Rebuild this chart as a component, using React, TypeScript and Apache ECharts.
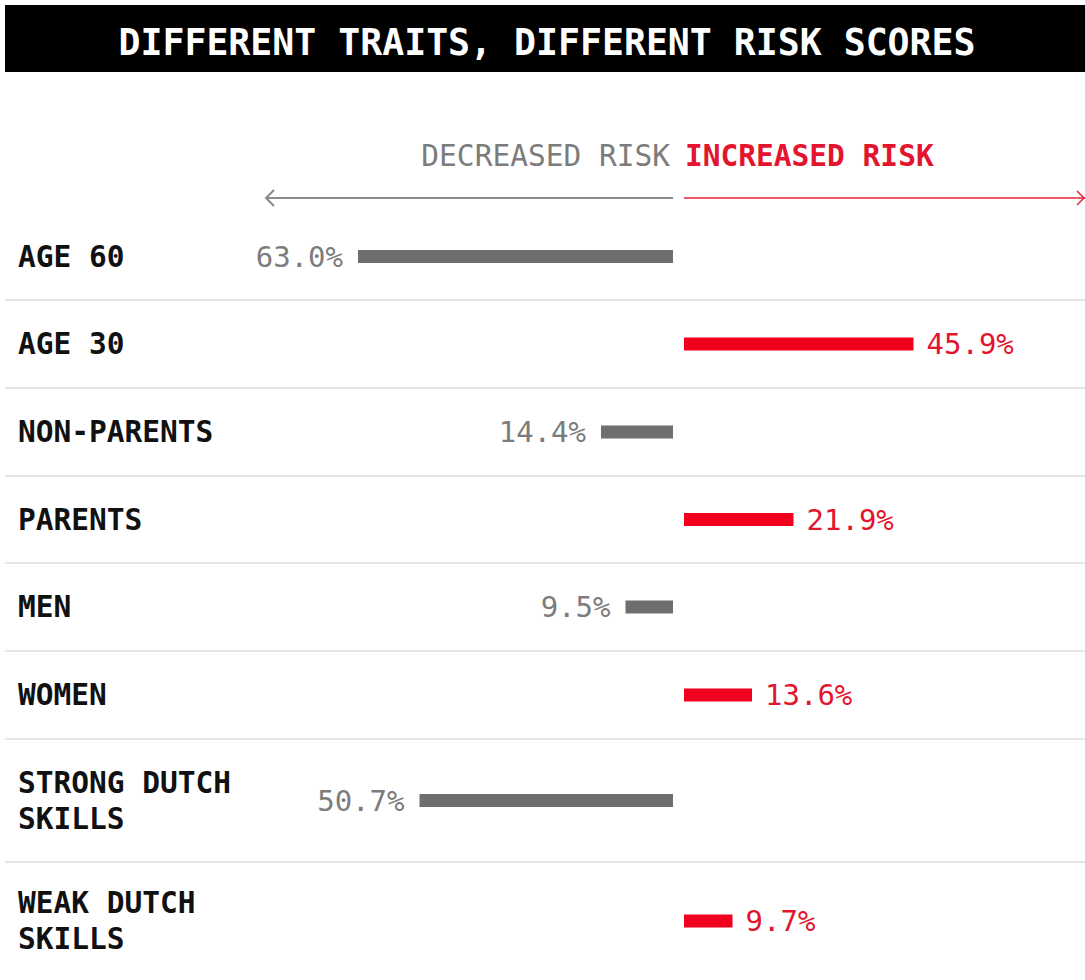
import React, { useEffect, useRef } from "react";
import * as echarts from "echarts";

const TITLE = "DIFFERENT TRAITS, DIFFERENT RISK SCORES";
const HEADER_LEFT = "DECREASED RISK";
const HEADER_RIGHT = "INCREASED RISK";
const CATEGORIES = [
  "AGE 60",
  "AGE 30",
  "NON-PARENTS",
  "PARENTS",
  "MEN",
  "WOMEN",
  "STRONG DUTCH\nSKILLS",
  "WEAK DUTCH\nSKILLS",
];
const DECREASED: (number | null)[] = [63.0, null, 14.4, null, 9.5, null, 50.7, null];
const INCREASED: (number | null)[] = [null, 45.9, null, 21.9, null, 13.6, null, 9.7];
const AXIS_MAX = 80;

// layout
const ROW_TOP = 213;
const ROW_HEIGHTS = [87, 88, 88, 87, 88, 88, 123, 123];
const CENTER_LEFT = 673;
const CENTER_RIGHT = 684;
const HALF_WIDTH = 400;
const LABEL_X = 18;
const MONO = "'DejaVu Sans Mono', 'Liberation Mono', monospace";
const GRAY = "#6e6e6e";
const GRAY_TEXT = "#7c7c7c";
const RED = "#f0001c";
const RED_TEXT = "#e3152e";

export default function App() {
  const ref = useRef<HTMLDivElement>(null);
  useEffect(() => {
    if (!ref.current) return;
    const chart = echarts.init(ref.current, undefined, { renderer: "svg" });
    const grids: any[] = [];
    const xAxes: any[] = [];
    const yAxes: any[] = [];
    const series: any[] = [];
    const graphics: any[] = [];
    const fmt = (p: any) => Number(p.value).toFixed(1) + "%";
    let top = ROW_TOP;
    CATEGORIES.forEach((cat, i) => {
      const h = ROW_HEIGHTS[i];
      const leftLeft = CENTER_LEFT - HALF_WIDTH;
      grids.push({ left: leftLeft, width: HALF_WIDTH, top, height: h });
      grids.push({ left: CENTER_RIGHT, width: HALF_WIDTH, top, height: h });
      xAxes.push({ type: "value", gridIndex: 2 * i, min: 0, max: AXIS_MAX, inverse: true, show: false });
      xAxes.push({ type: "value", gridIndex: 2 * i + 1, min: 0, max: AXIS_MAX, show: false });
      yAxes.push({
        type: "category",
        gridIndex: 2 * i,
        data: [cat],
        axisLine: { show: false },
        axisTick: { show: false },
        splitLine: { show: false },
        axisLabel: {
          align: "left",
          margin: leftLeft - LABEL_X,
          fontFamily: MONO,
          fontSize: 29.5,
          fontWeight: "bold",
          color: "#111",
          lineHeight: 36,
        },
      });
      yAxes.push({ type: "category", gridIndex: 2 * i + 1, data: [cat], show: false });
      if (DECREASED[i] != null) {
        series.push({
          type: "bar",
          xAxisIndex: 2 * i,
          yAxisIndex: 2 * i,
          data: [DECREASED[i]],
          barWidth: 13,
          itemStyle: { color: GRAY },
          label: {
            show: true,
            position: "left",
            distance: 15,
            formatter: fmt,
            fontFamily: MONO,
            fontSize: 29,
            color: GRAY_TEXT,
          },
        });
      }
      if (INCREASED[i] != null) {
        series.push({
          type: "bar",
          xAxisIndex: 2 * i + 1,
          yAxisIndex: 2 * i + 1,
          data: [INCREASED[i]],
          barWidth: 13,
          itemStyle: { color: RED },
          label: {
            show: true,
            position: "right",
            distance: 13,
            formatter: fmt,
            fontFamily: MONO,
            fontSize: 29,
            color: RED_TEXT,
          },
        });
      }
      top += h;
      if (i < CATEGORIES.length - 1) {
        graphics.push({
          type: "line",
          shape: { x1: 5, y1: top, x2: 1085, y2: top },
          style: { stroke: "#e6e6e6", lineWidth: 2 },
          silent: true,
        });
      }
    });

    graphics.push(
      { type: "rect", shape: { x: 5, y: 5, width: 1080, height: 67 }, style: { fill: "#000" } },
      {
        type: "text",
        x: 547,
        y: 42,
        style: {
          text: TITLE,
          fill: "#fff",
          fontFamily: MONO,
          fontSize: 36.5,
          fontWeight: "bold",
          align: "center",
          verticalAlign: "middle",
        },
      },
      {
        type: "text",
        x: 670,
        y: 156,
        style: {
          text: HEADER_LEFT,
          fill: GRAY_TEXT,
          fontFamily: MONO,
          fontSize: 29.5,
          align: "right",
          verticalAlign: "middle",
        },
      },
      {
        type: "text",
        x: 685,
        y: 156,
        style: {
          text: HEADER_RIGHT,
          fill: RED_TEXT,
          fontFamily: MONO,
          fontSize: 29.5,
          fontWeight: "bold",
          align: "left",
          verticalAlign: "middle",
        },
      },
      { type: "line", shape: { x1: 266, y1: 198, x2: 673, y2: 198 }, style: { stroke: "#8a8a8a", lineWidth: 2 } },
      {
        type: "polyline",
        shape: { points: [[274, 190], [266, 198], [274, 206]] },
        style: { stroke: "#8a8a8a", lineWidth: 2, fill: "none" },
      },
      { type: "line", shape: { x1: 684, y1: 198, x2: 1085, y2: 198 }, style: { stroke: "#e8203a", lineWidth: 1.5 } },
      {
        type: "polyline",
        shape: { points: [[1077, 191], [1084, 198], [1077, 205]] },
        style: { stroke: "#e8203a", lineWidth: 1.5, fill: "none" },
      }
    );

    chart.setOption({
      animation: false,
      backgroundColor: "#fff",
      grid: grids,
      xAxis: xAxes,
      yAxis: yAxes,
      series,
      graphic: graphics,
    });
    return () => chart.dispose();
  }, []);
  return (
    <div
      ref={ref}
      style={{ position: "fixed", left: 0, top: 0, width: 1085, height: 980, background: "#fff" }}
    />
  );
}
